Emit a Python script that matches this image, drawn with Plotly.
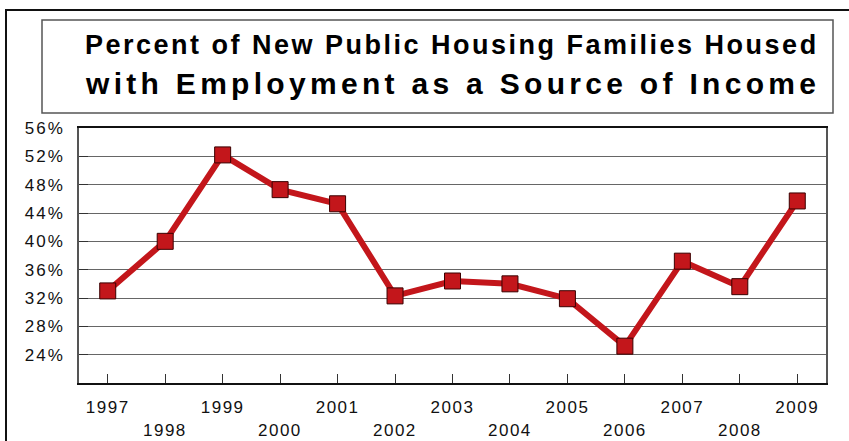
import plotly.graph_objects as go

years = [str(y) for y in range(1997, 2010)]
values = [33.0, 40.0, 52.2, 47.3, 45.3, 32.3, 34.4, 34.0, 31.9, 25.2, 37.2, 33.6, 45.7]
y_ticks = [24, 28, 32, 36, 40, 44, 48, 52, 56]
y_labels = [f"{v}%" for v in y_ticks]
title_line1 = "Percent of New Public Housing Families Housed"
title_line2 = "with Employment as a Source of Income"

W, H = 849, 441
L, R, T, B = 79, 826, 128, 383
pw, ph = R - L, B - T


def px(x):
    return (x - L) / pw


def py(y):
    return (B - y) / ph


def spaced(s, sp):
    return f"<span style='letter-spacing:{sp}px'>{s}</span>"


odd_ticktext = [spaced(y, 1.5) if i % 2 == 0 else "" for i, y in enumerate(years)]

fig = go.Figure()
fig.add_trace(go.Scatter(
    x=years, y=values, mode="lines+markers",
    line=dict(color="#C3161B", width=6),
    marker=dict(symbol="square", size=16, color="#C3161B",
                line=dict(color="#3a0000", width=1)),
    showlegend=False, cliponaxis=False,
))

annotations = [
    dict(text="<b>" + spaced(title_line1, 2.5) + "</b>", xref="paper", yref="paper",
         x=px(452), y=py(45), showarrow=False, xanchor="center", yanchor="middle",
         font=dict(size=27, family="Liberation Sans, Arial", color="#000")),
    dict(text="<b>" + spaced(title_line2, 4.3) + "</b>", xref="paper", yref="paper",
         x=px(452), y=py(84), showarrow=False, xanchor="center", yanchor="middle",
         font=dict(size=30, family="Liberation Sans, Arial", color="#000")),
]
for i, y in enumerate(years):
    if i % 2 == 1:
        annotations.append(dict(
            text=spaced(y, 1.5), x=i, xref="x", y=py(430), yref="paper",
            showarrow=False, xanchor="center", yanchor="middle",
            font=dict(size=17, family="Liberation Sans, Arial", color="#111")))

fig.update_layout(
    width=W, height=H,
    margin=dict(l=L, r=W - R, t=T, b=H - B),
    paper_bgcolor="white", plot_bgcolor="white",
    font=dict(family="Liberation Sans, Arial, sans-serif", color="#111", size=17),
    xaxis=dict(
        type="category", range=[-0.5, 12.5],
        tickmode="array", tickvals=years, ticktext=odd_ticktext,
        ticks="inside", ticklen=9, tickcolor="#333", tickwidth=1,
        showgrid=False, showline=True, linecolor="#111", linewidth=2,
        mirror=True, ticklabelstandoff=8,
        tickfont=dict(size=17),
    ),
    yaxis=dict(
        range=[20, 56], tickmode="array", tickvals=y_ticks,
        ticktext=[spaced(t, 2) for t in y_labels],
        ticks="inside", ticklen=9, tickcolor="#333",
        showgrid=True, gridcolor="#666", gridwidth=1,
        showline=True, linecolor="#555", linewidth=1.5, mirror=True,
        zeroline=False, ticklabelstandoff=9,
        tickfont=dict(size=17),
    ),
    shapes=[
        dict(type="rect", xref="paper", yref="paper",
             x0=px(6), x1=px(900), y0=py(500), y1=py(10),
             line=dict(color="#111", width=2), fillcolor="rgba(0,0,0,0)"),
        dict(type="rect", xref="paper", yref="paper",
             x0=px(42), x1=px(833), y0=py(113), y1=py(20),
             line=dict(color="#555", width=1.5), fillcolor="rgba(0,0,0,0)"),
    ],
    annotations=annotations,
)

fig.write_html("out.html")
